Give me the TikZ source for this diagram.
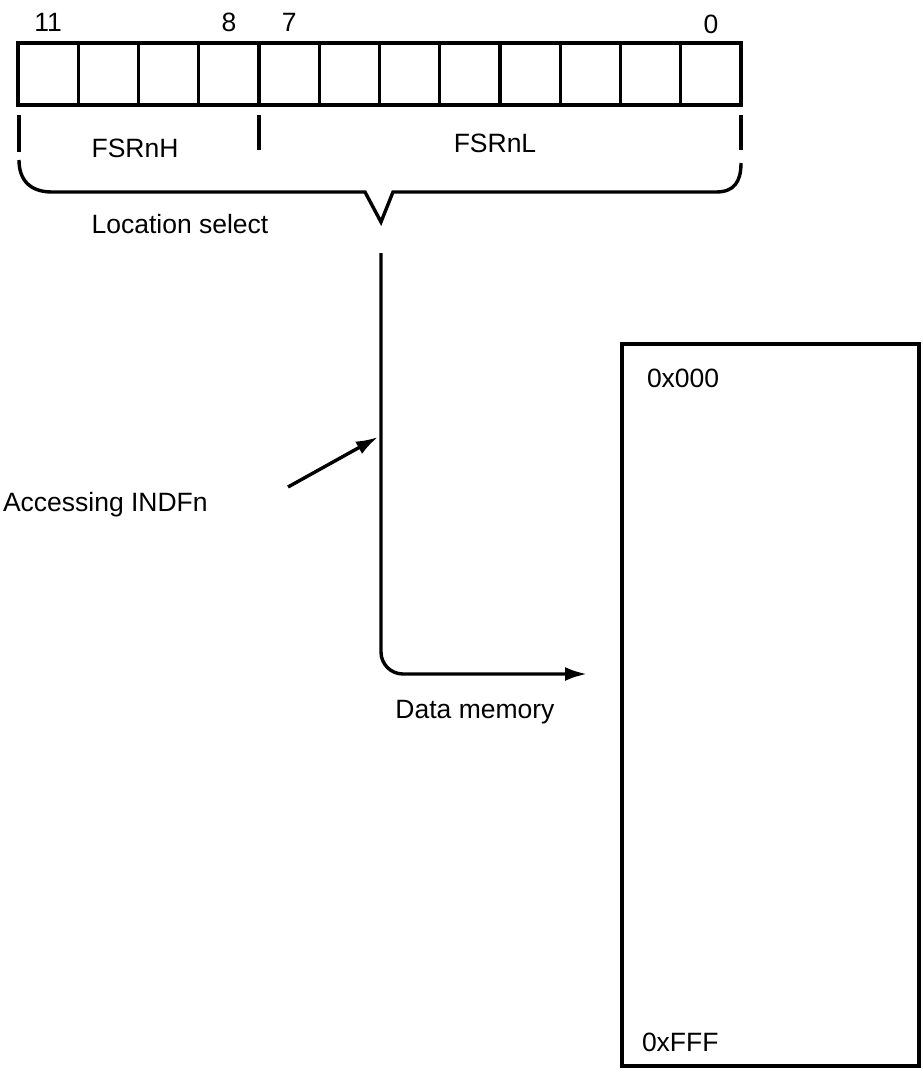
\documentclass[tikz,border=0pt]{standalone}
\usepackage{fontspec}
\setmainfont{Liberation Sans}
\usetikzlibrary{arrows.meta,calc}
\begin{document}
\begin{tikzpicture}[x=1pt,y=-1pt,
  line width=3.4pt,
  every node/.style={font=\fontsize{26.5}{31}\selectfont,inner sep=0pt,outer sep=0pt},
  cell/.style={draw,line width=3.4pt,minimum width=60.25pt,minimum height=62pt,anchor=north west},
  memory/.style={draw,line width=3.4pt,minimum width=297pt,minimum height=722pt,anchor=north west},
  lbl/.style={anchor=center},
  arr/.style={-{Latex[length=22pt,width=14pt]},line width=3.4pt}
]
\useasboundingbox (0,0) rectangle (922,1072);
% register cells, bit 11 on the left
\foreach \i [evaluate=\i as \x using 18+(11-\i)*60.25] in {11,...,0}{
  \node[cell] (c\i) at (\x,43) {};
}
% bit numbers
\node[lbl] (b11) at ([yshift=21pt]c11.north) {11};
\node[lbl] (b8)  at ([yshift=21pt]c8.north) {8};
\node[lbl] (b7)  at ([yshift=21pt]c7.north) {7};
\node[lbl] (b0)  at ([yshift=19pt]c0.north) {0};
% ticks
\draw ($(c11.south west)+(1,10)$) -- ++(0,37);
\draw ($(c8.south east)+(0,10)$) -- ++(0,35);
\draw ($(c0.south east)+(0,10)$) -- ++(0,35);
% field labels
\node[lbl] (fh) at (135,148) {FSRnH};
\node[lbl] (fl) at (495,143) {FSRnL};
% brace
\coordinate (tip) at (381,222);
\draw[line join=miter] (19,160)
  .. controls (19,180) and (30,192) .. (52,192) -- (365,192) -- (tip) -- (393,192) -- (716,192)
  .. controls (734,192) and (741,182) .. (741,163);
\node[lbl] (loc) at (180,224) {Location select};
% memory block
\node[memory] (mem) at (622,344) {};
\node[anchor=west] (m0) at (647,378) {0x000};
\node[anchor=west] (mf) at (642,1042) {0xFFF};
% connector to memory
\coordinate (top) at (381,253);
\coordinate (end) at (587,674);
\draw[arr,rounded corners=22pt] (top) |- (end);
\node[lbl] (dm) at (475,712) {Data memory};
% accessing arrow
\node[anchor=west] (acc) at (3,505) {Accessing INDFn};
\coordinate (accs) at (288,487);
\coordinate (acce) at (378,437);
\draw[arr] (accs) -- (acce);
\end{tikzpicture}
\end{document}
